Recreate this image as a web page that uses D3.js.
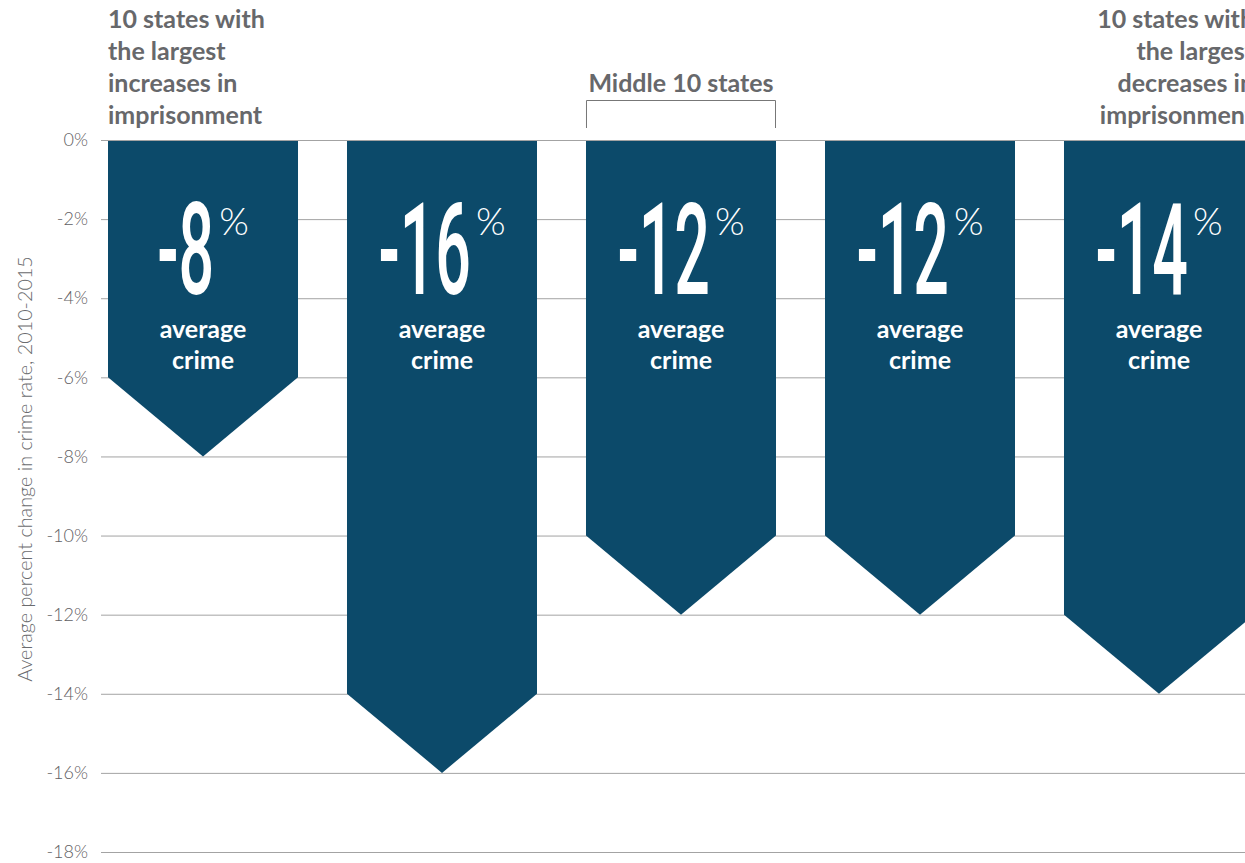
<!DOCTYPE html>
<html>
<head>
<meta charset="utf-8">
<script src="https://cdn.jsdelivr.net/npm/d3@7"></script>
<style>
  html, body { margin: 0; padding: 0; background: #fff; overflow: hidden; }
  svg { display: block; }
</style>
</head>
<body>
<svg id="chart" width="1245" height="863"></svg>
<script>
// ---- Data ----
const groups = ["Largest increases", "Group 2", "Middle 10", "Group 4", "Largest decreases"];
const values = [-8, -16, -12, -12, -14];
const yTicks = [0, -2, -4, -6, -8, -10, -12, -14, -16, -18];
const barCaption = ["average", "crime"];
const headerLeft = ["10 states with", "the largest", "increases in", "imprisonment"];
const headerMiddle = "Middle 10 states";
const headerRight = ["10 states with", "the largest", "decreases in", "imprisonment"];
const yTitle = "Average percent change in crime rate, 2010-2015";

// ---- Layout / style ----
const W = 1245, H = 863;
const barColor = "#0c4a6a";
const gray = "#67686b";
const tipDepth = 2; // arrow tip depth in axis units

const svg = d3.select("#chart");

const y = d3.scaleLinear().domain([0, -18]).range([140, 852]);
const x = d3.scaleBand().domain(groups).range([108, 1254]).paddingInner(0.205).paddingOuter(0);

// gridlines + tick labels
const yAxis = d3.axisLeft(y).tickValues(yTicks).tickFormat(d => d + "%").tickSize(-(W - 101)).tickPadding(13);
const ga = svg.append("g").attr("transform", "translate(101,0)").call(yAxis);
ga.select(".domain").remove();
ga.selectAll(".tick line").attr("stroke", "#a3a3a3").attr("stroke-width", 1);
ga.selectAll(".tick text")
  .attr("fill", "#5f6063")
  .style("font-family", "Lato, 'Open Sans', sans-serif")
  .style("font-weight", 300)
  .style("font-size", "18px");

// y title
svg.append("text")
  .attr("transform", "translate(32,469) rotate(-90)")
  .attr("text-anchor", "middle")
  .attr("fill", "#6a6b6e")
  .style("font-family", "Lato, 'Open Sans', sans-serif")
  .style("font-weight", 300)
  .style("font-size", "19.8px")
  .text(yTitle);

// arrows
const bw = x.bandwidth();
svg.append("g").selectAll("path").data(groups).join("path")
  .attr("fill", barColor)
  .attr("d", (g, i) => {
    const x0 = x(g), x1 = x0 + bw, cx = x0 + bw / 2;
    const v = values[i];
    const y0 = y(0), yb = y(v + tipDepth), yt = y(v);
    return `M${x0},${y0 + 1}L${x1},${y0 + 1}L${x1},${yb}L${cx},${yt}L${x0},${yb}Z`;
  });

// value labels
groups.forEach((g, i) => {
  const cx = x(g) + bw / 2;
  const lg = svg.append("g").attr("transform", `translate(${cx},0)`);
  const sx = 0.49;
  const num = lg.append("text")
    .attr("fill", "#fff")
    .style("font-family", "Roboto, 'Liberation Sans', sans-serif")
    .style("font-weight", 500)
    .style("font-size", "128px")
    .text(values[i]);
  const nw = num.node().getComputedTextLength() * sx;
  const pct = lg.append("text")
    .attr("fill", "#fff")
    .style("font-family", "Lato, sans-serif")
    .style("font-weight", 300)
    .style("font-size", "38px")
    .text("%");
  const pw = pct.node().getComputedTextLength();
  const gap = 5;
  const start = -(nw + gap + pw) / 2;
  num.attr("transform", `translate(${start},294) scale(${sx},1)`);
  pct.attr("x", start + nw + gap).attr("y", 235);

  lg.selectAll("text.cap").data(barCaption).join("text")
    .attr("class", "cap")
    .attr("text-anchor", "middle")
    .attr("x", 0)
    .attr("y", (d, j) => 338 + j * 31)
    .attr("fill", "#fff")
    .style("font-family", "Lato, sans-serif")
    .style("font-weight", 700)
    .style("font-size", "25px")
    .text(d => d);
});

// headers
function header(lines, xpos, anchor) {
  svg.append("g").selectAll("text").data(lines).join("text")
    .attr("x", xpos)
    .attr("y", (d, j) => 28 + j * 32)
    .attr("text-anchor", anchor)
    .attr("fill", gray)
    .style("font-family", "Lato, sans-serif")
    .style("font-weight", 700)
    .style("font-size", "25px")
    .text(d => d);
}
header(headerLeft, x(groups[0]), "start");
header(headerRight, x(groups[4]) + bw, "end");

const mx0 = x(groups[2]), mx1 = mx0 + bw;
svg.append("text")
  .attr("x", mx0 + bw / 2).attr("y", 92)
  .attr("text-anchor", "middle")
  .attr("fill", gray)
  .style("font-family", "Lato, sans-serif")
  .style("font-weight", 700)
  .style("font-size", "25px")
  .text(headerMiddle);
svg.append("path")
  .attr("d", `M${mx0 + 0.5},128V100.5H${mx1 - 0.5}V128`)
  .attr("fill", "none")
  .attr("stroke", "#777")
  .attr("stroke-width", 1);
</script>
</body>
</html>
